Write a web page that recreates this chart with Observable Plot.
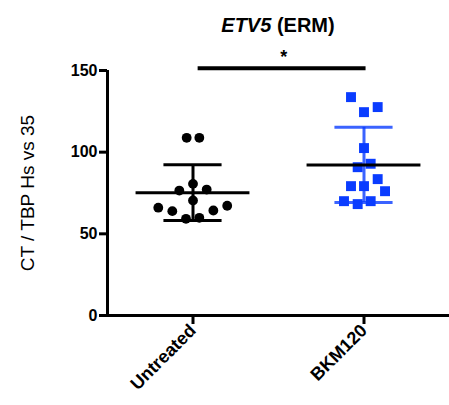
<!DOCTYPE html>
<html>
<head>
<meta charset="utf-8">
<script src="https://cdn.jsdelivr.net/npm/d3@7"></script>
<script src="https://cdn.jsdelivr.net/npm/@observablehq/plot@0.6"></script>
<style>
  body { margin: 0; background: #fff; font-family: "Liberation Sans", Arial, sans-serif; }
  #title { height: 40px; position: relative; }
  #title span { position: absolute; left: 0; width: 556px; top: 15px; text-align: center;
    font-size: 20px; line-height: 20px; font-weight: bold; color: #000; }
</style>
</head>
<body>
<div id="title"><span><i>ETV5</i> (ERM)</span></div>
<div id="chart"></div>
<script>
// ---- data ----
const categories = ["Untreated", "BKM120"];
const untreatedValues  = [108.8, 108.8, 80.6, 76.5, 77.1, 70.4, 66.0, 63.9, 67.2, 64.3, 59.2, 59.8];
const untreatedOffsets = [-0.037, 0.037, 0, -0.08, 0.08, 0, -0.203, -0.121, 0.2, 0.119, -0.041, 0.037];
const bkmValues  = [133.7, 127.6, 124.5, 102.5, 90.8, 92.9, 83.5, 79.2, 79.2, 76.1, 70.0, 68.2, 70.0];
const bkmOffsets = [-0.076, 0.08, 0, 0, -0.037, 0.039, 0.08, -0.076, 0, 0.123, -0.117, -0.037, 0.039];
const yTicks = [0, 50, 100, 150];
const yLabel = "CT / TBP Hs vs 35";
const sigValue = 151.4;
const sigLabel = "*";

// ---- build tables ----
const untreated = untreatedValues.map((v, i) => ({group: 0, value: v, offset: untreatedOffsets[i]}));
const bkm = bkmValues.map((v, i) => ({group: 1, value: v, offset: bkmOffsets[i]}));
const stats = [untreatedValues, bkmValues].map((vals, g) => {
  const m = d3.mean(vals), s = d3.deviation(vals);
  return {group: g, mean: m, lo: m - s, hi: m + s};
});
const blue = "#0a3cff";

const xPos = d => d.group + d.offset;
const g0 = stats.filter(d => d.group === 0);
const g1 = stats.filter(d => d.group === 1);
const yMid = (d3.min(yTicks) + d3.max(yTicks)) / 2;

const chart = Plot.plot({
  width: 449,
  height: 365,
  marginTop: 30,
  marginBottom: 90,
  marginLeft: 107,
  marginRight: 0,
  style: {fontFamily: "'Liberation Sans', Arial, sans-serif", color: "#000", background: "#fff"},
  x: {domain: [-0.5, 1.5], axis: null},
  y: {domain: [0, 150], axis: null},
  marks: [
    // axis lines
    Plot.ruleX([-0.5], {y1: 0, y2: 150, strokeWidth: 3, stroke: "#000"}),
    Plot.ruleY([0], {x1: -0.5, x2: 1.5, strokeWidth: 3, stroke: "#000"}),
    Plot.axisY({ticks: yTicks, tickSize: 8, strokeWidth: 3, tickPadding: 2, fontSize: 16, fontWeight: "bold", label: null}),
    Plot.axisX({ticks: [0, 1], tickFormat: i => categories[i], tickRotate: -45, tickSize: 9, strokeWidth: 3,
      tickPadding: 3, fontSize: 18, fontWeight: "bold", label: null}),
    Plot.text([yLabel], {x: () => -0.5, y: () => yMid, dx: -80, rotate: -90, textAnchor: "middle",
      fontSize: 19, fontWeight: "normal"}),
    // untreated stats (below dots)
    Plot.ruleY(g0, {y: "mean", x1: d => d.group - 0.333, x2: d => d.group + 0.333, strokeWidth: 3, stroke: "#000"}),
    Plot.ruleY(g0, {y: "hi", x1: d => d.group - 0.17, x2: d => d.group + 0.17, strokeWidth: 3, stroke: "#000"}),
    Plot.ruleY(g0, {y: "lo", x1: d => d.group - 0.17, x2: d => d.group + 0.17, strokeWidth: 3, stroke: "#000"}),
    Plot.ruleX(g0, {x: "group", y1: "lo", y2: "hi", strokeWidth: 3, stroke: "#000"}),
    // points
    Plot.dot(untreated, {x: xPos, y: "value", r: 4.9, fill: "#000", stroke: "none"}),
    Plot.dot(bkm, {x: xPos, y: "value", symbol: "square", r: 5.6, fill: blue, stroke: "none"}),
    // BKM120 stats (over squares)
    Plot.ruleX(g1, {x: "group", y1: "lo", y2: "hi", strokeWidth: 3, stroke: blue, strokeOpacity: 0.8}),
    Plot.ruleY(g1, {y: "hi", x1: d => d.group - 0.17, x2: d => d.group + 0.17, strokeWidth: 3, stroke: blue, strokeOpacity: 0.8}),
    Plot.ruleY(g1, {y: "lo", x1: d => d.group - 0.17, x2: d => d.group + 0.17, strokeWidth: 3, stroke: blue, strokeOpacity: 0.8}),
    Plot.ruleY(g1, {y: "mean", x1: d => d.group - 0.333, x2: d => d.group + 0.333, strokeWidth: 3, stroke: "#000"}),
    // significance
    Plot.ruleY([sigValue], {x1: 0.03, x2: 1.012, strokeWidth: 4, stroke: "#000"}),
    Plot.text([sigLabel], {x: 0.53, y: sigValue, dy: -11, fontSize: 18, fontWeight: "bold"})
  ]
});
document.getElementById("chart").appendChild(chart);
</script>
</body>
</html>
